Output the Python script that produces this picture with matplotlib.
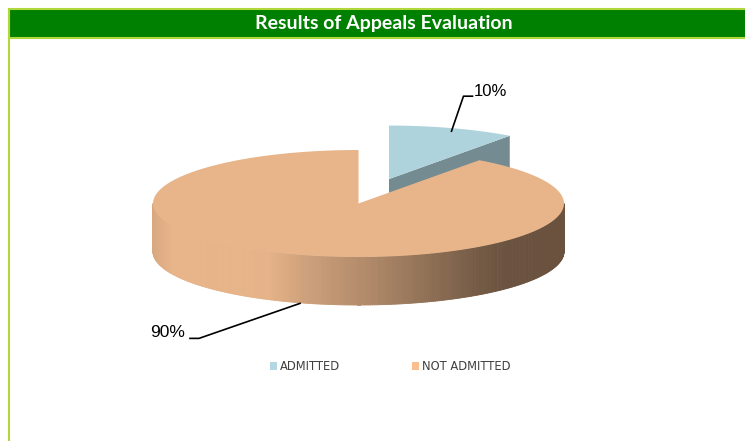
import numpy as np
import matplotlib.pyplot as plt
from matplotlib.patches import Polygon, Rectangle, Patch
from matplotlib.collections import PolyCollection
from matplotlib.colors import to_rgb

# data
title = 'Results of Appeals Evaluation'
labels = ['ADMITTED', 'NOT ADMITTED']
values = [10, 90]

# style
legend_colors = ['#B3D8E1', '#FBBF8E']
top_colors = ['#AED3DC', '#E8B58A']
explode = [0.48, 0.0]

W, H = 745, 441
fig = plt.figure(figsize=(W / 100, H / 100), dpi=100)
ax = fig.add_axes([0, 0, 1, 1])
ax.set_xlim(0, W)
ax.set_ylim(H, 0)
ax.axis('off')

# frame + title bar
border = '#B0D83C'
ax.add_patch(Rectangle((8.7, 8.7), W, 29.5, facecolor='#008000', edgecolor=border, lw=1.5))
ax.plot([8.7, 8.7], [8, H], color=border, lw=1.5, solid_capstyle='butt')
ax.text(383.5, 24.0, title, color='white', fontsize=14, fontweight='bold',
        family='Lato', ha='center', va='center')

# pseudo 3d pie geometry (pixels)
cx, cy = 358.5, 203.5
a, b = 205.5, 53.5
depth = 48

# shading of the outer wall, left -> right
shade_u = [0.0, 0.05, 0.28, 0.37, 0.535, 0.70, 0.78, 0.86, 1.0]
shade_f = [0.93, 1.0, 0.99, 0.89, 0.75, 0.59, 0.51, 0.455, 0.455]


def shade(c, f):
    r, g, bb = to_rgb(c)
    return (min(r * f, 1), min(g * f, 1), min(bb * f, 1))


def pt(t, ox, oy, dz=0.0):
    return (cx + ox + a * np.cos(t), cy + oy - b * np.sin(t) + dz)


total = sum(values)
slices = []
start = 90.0
for i, v in enumerate(values):
    end = start - 360.0 * v / total
    mid = np.radians((start + end) / 2)
    ox = explode[i] * a * np.cos(mid)
    oy = -explode[i] * b * np.sin(mid)
    slices.append((i, np.radians(start), np.radians(end), mid, ox, oy))
    start = end

# back slices first
order = sorted(slices, key=lambda s: -np.sin(s[3]))
anchors = {}
for i, t0, t1, mid, ox, oy in order:
    col = top_colors[i]
    apex = (cx + ox, cy + oy)
    # cut faces
    for t, nrm in ((t0, t0 + np.pi / 2), (t1, t1 - np.pi / 2)):
        if np.sin(nrm) < -1e-6:
            face = [apex, pt(t, ox, oy), pt(t, ox, oy, depth), (apex[0], apex[1] + depth)]
            ax.add_patch(Polygon(face, closed=True, facecolor=shade(col, 0.66),
                                 edgecolor='none'))
    # outer wall on the front half
    k0 = np.floor(t1 / (2 * np.pi))
    segs, cols = [], []
    for k in (k0 - 1, k0, k0 + 1):
        lo = max(t1, np.pi + 2 * np.pi * k)
        hi = min(t0, 2 * np.pi + 2 * np.pi * k)
        if hi <= lo:
            continue
        ts = np.linspace(lo, hi, 300)
        for p, q in zip(ts[:-1], ts[1:]):
            segs.append([pt(p, ox, oy), pt(q, ox, oy), pt(q, ox, oy, depth), pt(p, ox, oy, depth)])
            u = (np.cos((p + q) / 2) + 1) / 2
            cols.append(shade(col, np.interp(u, shade_u, shade_f)))
    if segs:
        ax.add_collection(PolyCollection(segs, facecolors=cols, edgecolors=cols, lw=0.6))
    # top face
    ts = np.linspace(t0, t1, 200)
    top = [apex] + [pt(t, ox, oy) for t in ts]
    ax.add_patch(Polygon(top, closed=True, facecolor=col, edgecolor='none'))
    anchors[i] = (mid, ox, oy)

# data labels with leader lines
pct = [f'{v / total * 100:.0f}%' for v in values]
mid, ox, oy = anchors[0]
x0, y0 = pt(mid, ox, oy)
x0, y0 = x0 - 1, y0 + 3
ax.plot([x0, x0 + 12, x0 + 21], [y0, y0 - 35, y0 - 35], color='black', lw=1.2)
ax.text(x0 + 22, y0 - 35, pct[0], fontsize=12, family='Liberation Sans',
        ha='left', va='baseline')
mid, ox, oy = anchors[1]
x1, y1 = pt(mid, ox, oy, depth)
x1, y1 = x1 + 5, y1 + 1
ax.plot([x1, x1 - 101, x1 - 110], [y1, y1 + 35, y1 + 35], color='black', lw=1.2)
ax.text(x1 - 115, y1 + 34, pct[1], fontsize=12.5, family='Liberation Sans',
        ha='right', va='baseline')

handles = [Patch(facecolor=c, edgecolor='none', label=l) for c, l in zip(legend_colors, labels)]
ax.legend(handles=handles, loc='center', bbox_to_anchor=(390 / W, 1 - 366.5 / H),
          ncol=2, frameon=False, handlelength=0.65, handleheight=0.65,
          handletextpad=0.25, columnspacing=6.2, labelcolor='#404040',
          prop={'family': 'DejaVu Sans', 'size': 8.3})

fig.savefig('out.png', dpi=100)
